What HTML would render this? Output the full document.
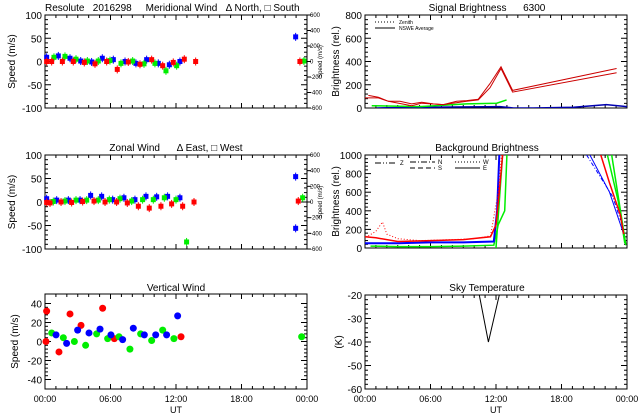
<!DOCTYPE html>
<html><head><meta charset="utf-8"><style>
body{margin:0;background:#fff;width:640px;height:420px;overflow:hidden}
svg{font-family:"Liberation Sans",sans-serif;display:block}
</style></head><body>
<svg id="c" width="640" height="420" viewBox="0 0 640 420">
<g font-size="10" fill="#000">
<text x="45" y="11" xml:space="preserve">Resolute   2016298     Meridional Wind   Δ North, □ South</text>
<text x="487" y="11" text-anchor="middle" xml:space="preserve">Signal Brightness      6300</text>
<text x="176" y="151" text-anchor="middle" xml:space="preserve">Zonal Wind      Δ East, □ West</text>
<text x="487" y="151" text-anchor="middle">Background Brightness</text>
<text x="176" y="291" text-anchor="middle">Vertical Wind</text>
<text x="487" y="291" text-anchor="middle">Sky Temperature</text>
</g>
</svg>
<script>
// ---- data ----
var merBlueT=[0.15,1.22,2.29,3.27,4.27,5.25,6.26,7.33,8.33,9.31,10.38,11.39,12.36,22.96];
var merBlueV=[9,12,7,1,-1,7,4,0,-4,4,-4,-7,0,53];
var merGreenT=[0.82,1.83,2.84,3.88,4.88,5.95,6.96,8.03,9.07,10.07,11.08,12.06,23.72];
var merGreenV=[9,11,5,1,1,2,-4,1,-5,-4,-20,-9,1];
var merRedT=[0.15,0.61,1.59,2.59,3.60,4.58,5.65,6.62,7.63,8.70,9.77,10.78,11.75,12.76,13.80,23.35];
var merRedV=[0,0,0,0,-2,-5,0,-17,-1,-6,4,-9,-2,5,0,0];
var zonBlueT=[0.15,1.07,2.14,3.21,4.18,5.19,6.20,7.23,8.24,9.25,10.23,11.23,12.36,22.96,22.96];
var zonBlueV=[7,4,4,4,14,12,5,9,5,12,11,12,9,54,-56];
var zonGreenT=[0.76,1.83,2.84,3.82,4.88,5.89,6.87,7.94,8.94,9.92,10.93,12.0,12.97,23.6];
var zonGreenV=[1,2,4,4,4,5,7,2,5,5,9,5,-85,9];
var zonRedT=[0.15,0.46,1.47,2.44,3.45,4.49,5.5,6.56,7.54,8.55,9.55,10.62,11.6,12.61,13.65,23.2];
var zonRedV=[-1,-2,0,-1,1,2,0,0,-2,-9,-13,-9,-4,-9,0,2];
var vertRedT=[0.15,0.09,1.28,2.29,3.30,5.28,6.35,12.46];
var vertRedV=[32,0,-11,29,17,35,3,5];
var vertGreenT=[0.61,1.68,2.69,3.72,4.73,5.74,6.78,7.78,8.76,9.77,10.78,11.81,23.51];
var vertGreenV=[9,4,0,-4,8,3,5,-8,8,1,12,3,5];
var vertBlueT=[1.01,1.98,2.99,4.03,5.04,6.04,7.11,8.09,9.10,10.14,11.14,12.15];
var vertBlueV=[7,-2,12,9,13,7,2,14,7,7,7,27];
var sigRed1T=[0.3,1.22,2.14,3.2,4.27,5.19,6.26,7.17,8.4,9.31,10.38,11.45,12.46,13.52,23.05];
var sigRed1V=[108,93,58,58,35,49,35,29,58,64,76,210,355,151,340];
var sigRed2T=[0,1.22,2.14,4.27,5.19,7.17,9.31,10.38,11.45,12.46,13.52,23.05];
var sigRed2V=[87,87,58,20,41,29,58,70,175,340,137,303];
var sigGreenT=[0.61,5.04,9.31,12.06,12.97];
var sigGreenV=[20,12,35,41,70];
var sigBlueT=[1.07,5.04,12.36,13.6,15.4,19.1,22.1,24];
var sigBlueV=[0,6,12,0,0,6,29,12];
var bgRedDotT=[0.3,1.0,1.6,2.0,3.0,5.0,8.0,10.0,11.5,12.2,12.5];
var bgRedDotV=[130,180,280,150,100,80,90,100,130,600,1000];
var bgRedT=[0,1,3,6,9,11.5,12,12.3,12.6];
var bgRedV=[120,110,70,80,90,120,250,600,1000];
var bgRedLateT=[21.6,22.4,23.4,23.7];
var bgRedLateV=[1000,700,350,150];
var bgBlueT=[0,3,6,9,11.8,12.1,12.3];
var bgBlueV=[50,50,60,60,70,400,1000];
var bgBlueLateT=[20.6,22.4,23.7];
var bgBlueLateV=[1000,600,150];
var bgBlueDashT=[20.3,22.7,23.4];
var bgBlueDashV=[1000,550,300];
var bgGreenT=[0.5,3,6,9,11.8,12.2,12.8,13];
var bgGreenV=[20,15,15,20,30,250,400,1000];
var bgGreenLateT=[22.2,23.2,23.8];
var bgGreenLateV=[1000,500,50];
var bgGreen2T=[12,12.6];
var bgGreen2V=[0,1000];
var bgGreen2LateT=[22.6,23.9];
var bgGreen2LateV=[1000,30];
var skyT=[10.47,11.3,12.3];
var skyV=[-20,-40,-20];
var speedTicks=[-100,-50,0,50,100];
var vertTicks=[-40,-20,0,20,40];
var sigTicks=[0,200,400,600,800];
var bgTicks=[0,200,400,600,800,1000];
var skyTicks=[-60,-50,-40,-30,-20];
var rightTicks=[-600,-400,-200,0,200,400,600];
var timeLabels=["00:00","06:00","12:00","18:00","00:00"];

var NS='http://www.w3.org/2000/svg', svg=document.getElementById('c');
function mk(tag,at,parent){var e=document.createElementNS(NS,tag);for(var k in at)e.setAttribute(k,at[k]);(parent||svg).appendChild(e);return e;}
function panel(x0,x1,y0,y1,ymin,ymax,ticks,name){
  var p={x0:x0,x1:x1,y0:y0,y1:y1,
    sx:function(h){return x0+h/24*(x1-x0);},
    sy:function(v){return y1-(v-ymin)/(ymax-ymin)*(y1-y0);}};
  var g=mk('g',{});
  
  
  p.g=g;
  var cid='clip'+name; var cp=mk('clipPath',{id:cid},g); mk('rect',{x:x0,y:y0,width:x1-x0,height:y1-y0},cp);
  p.clip='url(#'+cid+')';
  var fr=mk('rect',{x:x0,y:y0,width:x1-x0,height:y1-y0,fill:'none',stroke:'#000','stroke-width':1},g);
  
  
  for(var h=0;h<=24;h++){var len=(h%6==0)?5:3,x=p.sx(h);
    mk('line',{x1:x,x2:x,y1:y1,y2:y1-len,stroke:'#000'},g);mk('line',{x1:x,x2:x,y1:y0,y2:y0+len,stroke:'#000'},g);}
  var step=ticks[1]-ticks[0];
  for(var i=0;i<ticks.length;i++){var y=p.sy(ticks[i]);
    mk('line',{x1:x0,x2:x0+6,y1:y,y2:y,stroke:'#000'},g);mk('line',{x1:x1,x2:x1-6,y1:y,y2:y,stroke:'#000'},g);
    var t=mk('text',{x:x0-3,y:y+4,'text-anchor':'end','font-size':10},g);t.textContent=ticks[i];
    
    
    for(var m=1;m<5;m++){var ym=p.sy(ticks[i]+m*step/5);if(ym>=y0&&i<ticks.length-1){
      mk('line',{x1:x0,x2:x0+3,y1:ym,y2:ym,stroke:'#000'},g);mk('line',{x1:x1,x2:x1-3,y1:ym,y2:ym,stroke:'#000'},g);}}
  }
  return p;
}
function rightAxis(p){
  for(var i=0;i<rightTicks.length;i++){var y=p.y1-(rightTicks[i]+600)/1200*(p.y1-p.y0);
    mk('line',{x1:p.x1,x2:p.x1+4,y1:y,y2:y,stroke:'#000'},p.g);
    var t=mk('text',{x:p.x1+3,y:y+2,'font-size':6},p.g);t.textContent=rightTicks[i];
    
    }
  var t=mk('text',{transform:'translate(322,'+((p.y0+p.y1)/2)+') rotate(-90)','text-anchor':'middle','font-size':6},p.g);
  t.textContent='Speed (m/s)';
  
  
}
function ytitle(p,x,txt){var t=mk('text',{transform:'translate('+x+','+((p.y0+p.y1)/2)+') rotate(-90)','text-anchor':'middle','font-size':10},p.g);t.textContent=txt;
  
  }
function timeAxis(p){for(var i=0;i<timeLabels.length;i++){var t=mk('text',{x:p.sx(i*6),y:p.y1+13,'text-anchor':'middle','font-size':9},p.g);t.textContent=timeLabels[i];
    
    }
  var u=mk('text',{x:(p.x0+p.x1)/2,y:p.y1+24,'text-anchor':'middle','font-size':9},p.g);u.textContent='UT';
  
  }
function squares(p,T,V,col,name){for(var i=0;i<T.length;i++){var x=p.sx(T[i]),y=p.sy(V[i]);
  mk('line',{x1:x,x2:x,y1:y-4,y2:y+4,stroke:col,'stroke-width':1},p.g);
  var r=mk('rect',{x:x-2.5,y:y-2.5,width:5,height:5,fill:col},p.g);
  
  }}
function dots(p,T,V,col,name){for(var i=0;i<T.length;i++){var c=mk('circle',{cx:p.sx(T[i]),cy:p.sy(V[i]),r:3.5,fill:col},p.g);
  
  }}
function line(p,T,V,col,dash,name,w){var d='';for(var i=0;i<T.length;i++)d+=(i?'L':'M')+p.sx(T[i]).toFixed(1)+','+p.sy(V[i]).toFixed(1);
  var e=mk('path',{d:d,fill:'none',stroke:col,'stroke-width':w||1,'stroke-dasharray':dash||'none','clip-path':p.clip},p.g);
  
  }
var R='#f00',G='#0e0',B='#00f';

var p1=panel(45,307,15,108,-100,100,speedTicks,'meridional-panel');
ytitle(p1,15,'Speed (m/s)');rightAxis(p1);
squares(p1,merBlueT,merBlueV,B,'meridional-blue-point');squares(p1,merGreenT,merGreenV,G,'meridional-green-point');squares(p1,merRedT,merRedV,R,'meridional-red-point');

var p3=panel(45,307,155,249,-100,100,speedTicks,'zonal-panel');
ytitle(p3,15,'Speed (m/s)');rightAxis(p3);
squares(p3,zonBlueT,zonBlueV,B,'zonal-blue-point');squares(p3,zonGreenT,zonGreenV,G,'zonal-green-point');squares(p3,zonRedT,zonRedV,R,'zonal-red-point');

var p5=panel(45,307,294,389,-50,50,vertTicks,'vertical-panel');
ytitle(p5,18,'Speed (m/s)');timeAxis(p5);
dots(p5,vertRedT,vertRedV,R,'vertical-red-point');dots(p5,vertGreenT,vertGreenV,G,'vertical-green-point');dots(p5,vertBlueT,vertBlueV,B,'vertical-blue-point');

var p2=panel(365,627,15,108,0,800,sigTicks,'signal-panel');
ytitle(p2,339,'Brightness (rel.)');
line(p2,sigBlueT,sigBlueV,'#0000b0','','signal-blue-line',1.5);
line(p2,sigGreenT,sigGreenV,G,'','signal-green-line',1.5);
line(p2,sigRed1T,sigRed1V,'#c00','','signal-red-line-a',1);
line(p2,sigRed2T,sigRed2V,'#c00','','signal-red-line-b',1);
(function(){var g=p2.g;mk('line',{x1:375,x2:395,y1:22,y2:22,stroke:'#000','stroke-dasharray':'1,2'},g);
 mk('line',{x1:375,x2:395,y1:28,y2:28,stroke:'#000'},g);
 var a=mk('text',{x:399,y:24,'font-size':5},g);a.textContent='Zenith';
 var b=mk('text',{x:399,y:30,'font-size':5},g);b.textContent='NSWE Average';})();

var p4=panel(365,627,155,248,0,1000,bgTicks,'background-panel');
ytitle(p4,339,'Brightness (rel.)');
line(p4,bgGreenT,bgGreenV,G,'','bg-green-line',1.5);line(p4,bgGreenLateT,bgGreenLateV,G,'','bg-green-late-line',1.5);
line(p4,bgGreen2T,bgGreen2V,G,'','bg-green-line-2',1.5);line(p4,bgGreen2LateT,bgGreen2LateV,G,'','bg-green-late-line-2',1.5);
line(p4,bgBlueT,bgBlueV,B,'','bg-blue-line',2);line(p4,bgBlueLateT,bgBlueLateV,B,'','bg-blue-late-line',1);
line(p4,bgBlueDashT,bgBlueDashV,B,'4,2,1,2','bg-blue-dash-line',1);
line(p4,bgRedT,bgRedV,R,'','bg-red-line',1.5);line(p4,bgRedLateT,bgRedLateV,R,'','bg-red-late-line',1.5);
line(p4,bgRedDotT,bgRedDotV,R,'1,2','bg-red-dot-line',1);
(function(){var g=p4.g,L=[[375,397,163,'6,2,1,2,1,2','Z'],[410,435,162,'6,2,1,2','N'],[410,435,168,'5,3','S'],[455,480,162,'1,2','W'],[455,480,168,'','E']];
 for(var i=0;i<L.length;i++){mk('line',{x1:L[i][0],x2:L[i][1],y1:L[i][2],y2:L[i][2],stroke:'#000','stroke-dasharray':L[i][3]||'none'},g);
  var t=mk('text',{x:L[i][1]+3,y:L[i][2]+2,'font-size':6},g);t.textContent=L[i][4];
  
  }})();

var p6=panel(365,627,295,389,-60,-20,skyTicks,'skytemp-panel');
ytitle(p6,342,'(K)');timeAxis(p6);
line(p6,skyT,skyV,'#000','','skytemp-line',1);
</script>
</body></html>
